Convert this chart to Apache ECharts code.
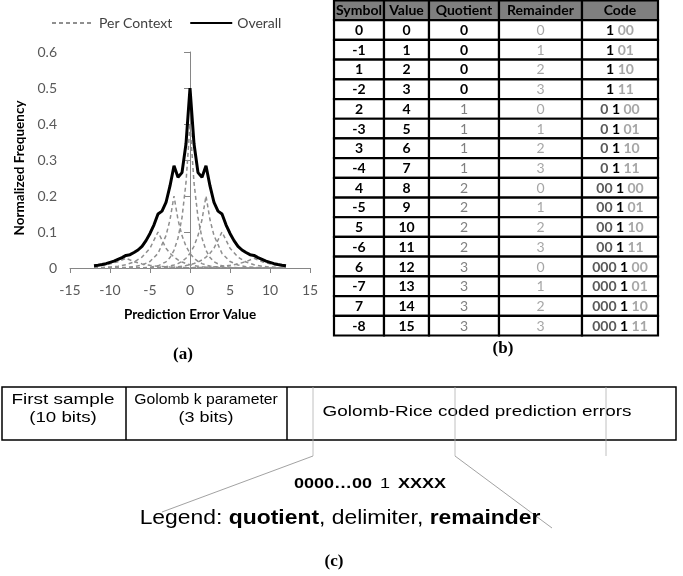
<!DOCTYPE html>
<html><head><meta charset="utf-8">
<script src="https://cdn.jsdelivr.net/npm/echarts@6/dist/echarts.min.js"></script>
<style>html,body{margin:0;padding:0;background:#fff}#c{width:683px;height:576px}</style>
</head><body><div id="c"></div>
<script>
// ---------- (a) data ----------
const ctxX = [-12,-11,-10,-9,-8,-7,-6,-5,-4,-3,-2.5,-2,-1.5,-1,-0.5,0,0.5,1,1.5,2,2.5,3,4,5,6,7,8,9,10,11,12];
const ctx0  = [0,0,0,0,0.0001,0.0003,0.0007,0.0021,0.006,0.0172,0.029,0.049,0.083,0.14,0.237,0.40,0.237,0.14,0.083,0.049,0.029,0.0172,0.006,0.0021,0.0007,0.0003,0.0001,0,0,0,0];
const ctxM2 = [0.0001,0.0001,0.0003,0.0007,0.0017,0.0037,0.0082,0.0182,0.0405,0.09,0.134,0.2,0.134,0.09,0.0604,0.0405,0.0272,0.0182,0.0122,0.0082,0.0055,0.0037,0.0017,0.0007,0.0003,0.0001,0.0001,0,0,0,0];
const ctxP2 = [0,0,0,0,0.0001,0.0001,0.0003,0.0007,0.0017,0.0037,0.0055,0.0082,0.0122,0.0182,0.0272,0.0405,0.0604,0.09,0.134,0.2,0.134,0.09,0.0405,0.0182,0.0082,0.0037,0.0017,0.0007,0.0003,0.0001,0.0001];
const ctxM4 = [0.0008,0.0015,0.0028,0.005,0.0092,0.0166,0.0303,0.055,0.1,0.055,0.0408,0.0303,0.0224,0.0166,0.0123,0.0092,0.0068,0.005,0.0037,0.0028,0.002,0.0015,0.0008,0.0005,0.0003,0.0001,0.0001,0,0,0,0];
const ctxP4 = [0,0,0,0,0.0001,0.0001,0.0003,0.0005,0.0008,0.0015,0.002,0.0028,0.0037,0.005,0.0068,0.0092,0.0123,0.0166,0.0224,0.0303,0.0408,0.055,0.1,0.055,0.0303,0.0166,0.0092,0.005,0.0028,0.0015,0.0008];
const ctxM8 = [0.0048,0.0074,0.0114,0.0176,0.027,0.0176,0.0114,0.0074,0.0048,0.0031,0.0025,0.002,0.0016,0.0013,0.0011,0.0009,0.0007,0.0006,0.0005,0.0004,0.0003,0.0002,0.0002,0.0001,0.0001,0.0001,0,0,0,0,0];
const ctxP8 = [0,0,0,0,0,0.0001,0.0001,0.0001,0.0002,0.0002,0.0003,0.0004,0.0005,0.0006,0.0007,0.0009,0.0011,0.0013,0.0016,0.002,0.0025,0.0031,0.0048,0.0074,0.0114,0.0176,0.027,0.0176,0.0114,0.0074,0.0048];

const overallX = [-12,-11.5,-11,-10.5,-10,-9.5,-9,-8.5,-8,-7.5,-7,-6.5,-6,-5.5,-5,-4.5,-4,-3.5,-3,-2.5,-2,-1.5,-1,-0.5,0,0.5,1,1.5,2,2.5,3,3.5,4,4.5,5,5.5,6,6.5,7,7.5,8,8.5,9,9.5,10,10.5,11,11.5,12];
const overallY = [0.006,0.0075,0.0095,0.012,0.0155,0.019,0.024,0.029,0.035,0.037,0.043,0.050,0.060,0.076,0.096,0.120,0.150,0.158,0.182,0.228,0.284,0.252,0.265,0.345,0.500,0.345,0.265,0.252,0.284,0.228,0.182,0.158,0.150,0.120,0.096,0.076,0.060,0.050,0.043,0.037,0.035,0.029,0.024,0.019,0.0155,0.012,0.0095,0.0075,0.006];

const xTicks = [-15,-10,-5,0,5,10,15];
const yTicks = [0,0.1,0.2,0.3,0.4,0.5,0.6];

// ---------- (b) data ----------
const tableHeaders = ['Symbol','Value','Quotient','Remainder','Code'];
const symbols    = [0,-1,1,-2,2,-3,3,-4,4,-5,5,-6,6,-7,7,-8];
const values     = [0,1,2,3,4,5,6,7,8,9,10,11,12,13,14,15];
const quotients  = [0,0,0,0,1,1,1,1,2,2,2,2,3,3,3,3];
const remainders = [0,1,2,3,0,1,2,3,0,1,2,3,0,1,2,3];
const codeUnary  = ['','','','','0','0','0','0','00','00','00','00','000','000','000','000'];
const codeDelim  = ['1','1','1','1','1','1','1','1','1','1','1','1','1','1','1','1'];
const codeRem    = ['00','01','10','11','00','01','10','11','00','01','10','11','00','01','10','11'];

// layout constants
const colEdges = [0, 50, 95, 165, 248, 324];
const F = 'Lato';
const AR = '"Liberation Sans", Arial';
const SERIF = '"Liberation Serif", "Times New Roman"';

const chart = echarts.init(document.getElementById('c'), null, {renderer: 'canvas'});

const ctxSets = [ctxM8, ctxM4, ctxM2, ctx0, ctxP2, ctxP4, ctxP8];
const ctxSeries = ctxSets.map(arr => ({
  name: 'Per Context', type: 'line', xAxisIndex: 0, yAxisIndex: 0,
  data: ctxX.map((x, i) => [x, arr[i]]),
  showSymbol: false, symbol: 'none', silent: true,
  lineStyle: {color: '#8f8f8f', width: 1.5, type: [4, 3]},
  itemStyle: {color: '#8f8f8f'}, z: 2
}));

const rowNames = ['h'].concat(values.map(v => 'r' + v));
const tableData = [];
for (let r = 0; r < rowNames.length; r++) {
  for (let c = 0; c < 5; c++) tableData.push([colEdges[c], colEdges[c + 1], r, c]);
}

function cellStyle(r, c) {
  if (r === 0) return {text: tableHeaders[c], fill: '#000', weight: 'bold'};
  const i = r - 1;
  if (c === 0) return {text: String(symbols[i]), fill: '#000', weight: 'bold'};
  if (c === 1) return {text: String(values[i]), fill: '#000', weight: 'bold'};
  if (c === 2) return quotients[i] === 0 ? {text: String(quotients[i]), fill: '#000', weight: 'bold'}
                                         : {text: String(quotients[i]), fill: '#808080', weight: 'normal'};
  if (c === 3) return {text: String(remainders[i]), fill: '#a6a6a6', weight: 'normal'};
  const parts = [];
  if (codeUnary[i]) parts.push('{u|' + codeUnary[i] + '}');
  parts.push('{d|' + codeDelim[i] + '}');
  parts.push('{r|' + codeRem[i] + '}');
  return {text: parts.join(' '), rich: true};
}

const FS = 14;
function renderCell(params, api) {
  const r = api.value(2), c = api.value(3);
  const p0 = api.coord([api.value(0), r]);
  const p1 = api.coord([api.value(1), r]);
  const h = api.size([0, 1])[1];
  const x = p0[0], y = p0[1] - h / 2, w = p1[0] - p0[0];
  const s = cellStyle(r, c);
  const textStyle = {
    text: s.text, x: x + w / 2, y: y + h / 2 + 0.5, align: 'center', verticalAlign: 'middle',
    fill: s.fill || '#000', fontFamily: F, fontSize: FS, fontWeight: s.weight || 'bold'
  };
  if (s.rich) {
    textStyle.rich = {
      u: {fill: '#595959', fontFamily: F, fontSize: FS, fontWeight: 'bold'},
      d: {fill: '#000', fontFamily: F, fontSize: FS, fontWeight: 'bold'},
      r: {fill: '#a6a6a6', fontFamily: F, fontSize: FS, fontWeight: 'bold'}
    };
  }
  return {
    type: 'group',
    children: [
      {type: 'rect', shape: {x: x, y: y, width: w, height: h},
       style: {fill: r === 0 ? '#7f7f7f' : '#fff', stroke: '#000', lineWidth: 2.2}},
      {type: 'text', style: textStyle}
    ]
  };
}

function boxText(txt, cx, cy, size, sx) {
  return {type: 'text', x: cx, y: cy, scaleX: sx, z: 3,
          style: {text: txt, font: size + 'px ' + AR, fill: '#000', align: 'center', verticalAlign: 'middle'}};
}

const option = {
  animation: false,
  backgroundColor: '#fff',
  legend: {
    left: 46, top: 11, itemWidth: 42, itemHeight: 14, itemGap: 17,
    data: ['Per Context', 'Overall'],
    itemStyle: {opacity: 0},
    textStyle: {fontFamily: F, fontSize: 14, color: '#404040'},
    selectedMode: false
  },
  grid: [
    {left: 70, top: 52, width: 240, height: 216},
    {left: 334, top: 0.5, width: 324, height: 335}
  ],
  xAxis: [
    {type: 'value', gridIndex: 0, min: xTicks[0], max: xTicks[xTicks.length - 1], interval: 5,
     name: 'Prediction Error Value', nameLocation: 'middle', nameGap: 40,
     nameTextStyle: {fontFamily: F, fontSize: 13.5, fontWeight: 'bold', color: '#000'},
     axisLine: {show: true, onZero: true, lineStyle: {color: '#868686', width: 1}},
     axisTick: {show: true, length: 5, lineStyle: {color: '#868686'}},
     axisLabel: {fontFamily: F, fontSize: 14, color: '#595959', margin: 15},
     splitLine: {show: false}},
    {type: 'value', gridIndex: 1, min: 0, max: colEdges[colEdges.length - 1], show: false}
  ],
  yAxis: [
    {type: 'value', gridIndex: 0, min: yTicks[0], max: yTicks[yTicks.length - 1], interval: 0.1,
     axisLine: {show: true, lineStyle: {color: '#868686', width: 1}},
     axisTick: {show: true, length: 6, lineStyle: {color: '#868686'}},
     axisLabel: {fontFamily: F, fontSize: 14, color: '#595959', margin: 13,
                 formatter: v => v === 0 ? '0' : v.toFixed(1)},
     splitLine: {show: false}},
    {type: 'category', gridIndex: 1, data: rowNames, inverse: true, show: false,
     boundaryGap: true}
  ],
  series: ctxSeries.concat([
    {name: 'Overall', type: 'line', xAxisIndex: 0, yAxisIndex: 0,
     data: overallX.map((x, i) => [x, overallY[i]]),
     showSymbol: false, symbol: 'none', silent: true,
     lineStyle: {color: '#000', width: 3}, itemStyle: {color: '#000'}, z: 5},
    {name: 'table', type: 'custom', xAxisIndex: 1, yAxisIndex: 1, silent: true,
     renderItem: renderCell, encode: {x: [0, 1], y: 2}, data: tableData, z: 3}
  ]),
  graphic: [
    {type: 'text', x: 20, y: 168, rotation: Math.PI / 2,
     style: {text: 'Normalized Frequency', font: 'bold 13.5px ' + F, fill: '#000', align: 'center', verticalAlign: 'middle'}},
    {type: 'text', x: 183, y: 355, style: {text: '(a)', font: 'bold 17px ' + SERIF, fill: '#000', align: 'center', verticalAlign: 'middle'}},
    {type: 'text', x: 503, y: 349, style: {text: '(b)', font: 'bold 17px ' + SERIF, fill: '#000', align: 'center', verticalAlign: 'middle'}},
    {type: 'text', x: 334, y: 562, style: {text: '(c)', font: 'bold 17px ' + SERIF, fill: '#000', align: 'center', verticalAlign: 'middle'}},
    // frame diagram
    {type: 'rect', shape: {x: 2, y: 387, width: 674, height: 53}, style: {fill: '#fff', stroke: '#000', lineWidth: 1.5}, z: 1},
    {type: 'line', shape: {x1: 126, y1: 387, x2: 126, y2: 440}, style: {stroke: '#000', lineWidth: 1.5}, z: 2},
    {type: 'line', shape: {x1: 287, y1: 387, x2: 287, y2: 440}, style: {stroke: '#000', lineWidth: 1.5}, z: 2},
    {type: 'line', shape: {x1: 313, y1: 387, x2: 313, y2: 456}, style: {stroke: '#b0b0b0', lineWidth: 0.8}, z: 4},
    {type: 'line', shape: {x1: 455, y1: 387, x2: 455, y2: 456}, style: {stroke: '#b0b0b0', lineWidth: 0.8}, z: 4},
    {type: 'line', shape: {x1: 606, y1: 387, x2: 606, y2: 456}, style: {stroke: '#b0b0b0', lineWidth: 0.8}, z: 4},
    {type: 'line', shape: {x1: 313, y1: 456, x2: 162, y2: 512}, style: {stroke: '#8a8a8a', lineWidth: 0.8}, z: 2},
    {type: 'line', shape: {x1: 455, y1: 456, x2: 552, y2: 528}, style: {stroke: '#8a8a8a', lineWidth: 0.8}, z: 2},
    boxText('First sample', 63, 400, 15, 1.26),
    boxText('(10 bits)', 63, 418, 15, 1.25),
    boxText('Golomb k parameter', 206, 400, 15, 1.05),
    boxText('(3 bits)', 206, 418, 15, 1.2),
    boxText('Golomb-Rice coded prediction errors', 477, 412, 15, 1.26),
    {type: 'text', x: 370, y: 484, scaleX: 1.2, z: 3, style: {
      text: '{b|0000…00}  {n|1}  {b|XXXX}', align: 'center', verticalAlign: 'middle',
      rich: {b: {fontFamily: AR, fontSize: 15, fontWeight: 'bold', fill: '#000'},
             n: {fontFamily: AR, fontSize: 15, fontWeight: 'normal', fill: '#000'}}}},
    {type: 'text', x: 340, y: 518, scaleX: 1.09, z: 3, style: {
      text: '{n|Legend: }{b|quotient}{n|, delimiter, }{b|remainder}', align: 'center', verticalAlign: 'middle',
      rich: {b: {fontFamily: AR, fontSize: 21, fontWeight: 'bold', fill: '#000'},
             n: {fontFamily: AR, fontSize: 21, fontWeight: 'normal', fill: '#000'}}}}
  ]
};
chart.setOption(option);
</script>
</body></html>
